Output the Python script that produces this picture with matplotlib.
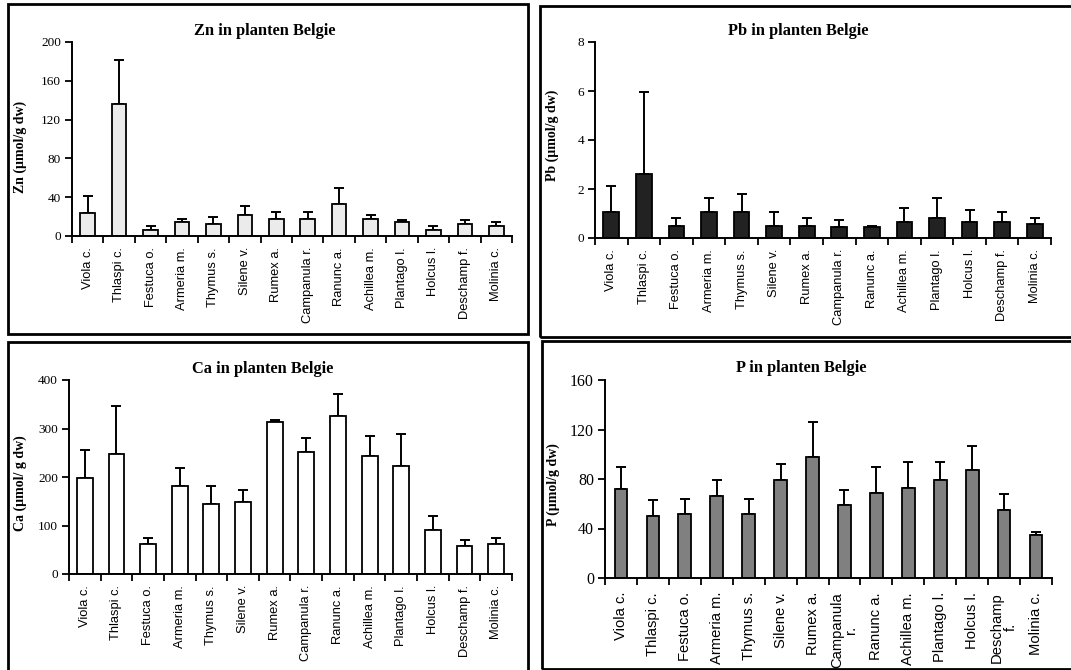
import matplotlib
matplotlib.use("Agg")
import matplotlib.pyplot as plt
from matplotlib.patches import Rectangle

# soorten (x-as)
species = ["Viola c.", "Thlaspi c.", "Festuca o.", "Armeria m.", "Thymus s.", "Silene v.",
           "Rumex a.", "Campanula r.", "Ranunc a.", "Achillea m.", "Plantago l.", "Holcus l.",
           "Deschamp f.", "Molinia c."]
species_p = ["Viola c.", "Thlaspi c.", "Festuca o.", "Armeria m.", "Thymus s.", "Silene v.",
             "Rumex a.", "Campanula\nr.", "Ranunc a.", "Achillea m.", "Plantago l.", "Holcus l.",
             "Deschamp\nf.", "Molinia c."]

# gemiddelden en bovenkant foutbalk
zn = [24, 136, 6, 14, 12, 22, 18, 18, 33, 18, 14, 6, 12, 10]
zn_top = [41, 181, 10, 18, 20, 31, 25, 25, 49, 22, 16, 10, 16, 14]

pb = [1.06, 2.63, 0.49, 1.06, 1.06, 0.49, 0.49, 0.46, 0.46, 0.65, 0.80, 0.65, 0.65, 0.56]
pb_top = [2.13, 5.97, 0.80, 1.62, 1.80, 1.06, 0.80, 0.72, 0.49, 1.23, 1.62, 1.13, 1.06, 0.80]

ca = [198, 247, 62, 181, 144, 148, 313, 252, 325, 243, 223, 91, 58, 62]
ca_top = [256, 346, 74, 219, 182, 173, 318, 280, 372, 285, 289, 119, 70, 74]

p = [72, 50, 52, 66, 52, 79, 98, 59, 69, 73, 79, 87, 55, 35]
p_top = [90, 63, 64, 79, 64, 92, 126, 71, 90, 94, 94, 107, 68, 37]

W, H = 1071, 670
fig = plt.figure(figsize=(W / 100, H / 100), dpi=100)

serif = "Liberation Serif"
sans = "Liberation Sans"

# kaders rond de grafieken
for (x0, y0, x1, y1) in [(8, 4, 528, 334), (540, 6, 1076, 337), (8, 342, 528, 675), (542, 341, 1076, 669)]:
    fig.patches.append(Rectangle((x0 / W, 1 - y1 / H), (x1 - x0) / W, (y1 - y0) / H,
                                 transform=fig.transFigure, fill=False, lw=2, ec="black"))


def panel(left, right, y0, ytop, labels, vals, tops, color, ymax, step, title, ylabel,
          title_x, title_y, lab_x, lab_y, width, tfs=9.5, xfs=9.3, xpad=8):
    ax = fig.add_axes([left / W, 1 - y0 / H, (right - left) / W, (y0 - ytop) / H])
    x = list(range(len(vals)))
    err = [[0] * len(vals), [t - v for t, v in zip(tops, vals)]]
    ax.bar(x, vals, width=width, color=color, edgecolor="black", linewidth=1.3, zorder=2)
    ax.errorbar(x, vals, yerr=err, fmt="none", ecolor="black", elinewidth=1.4,
                capsize=3.5, capthick=1.4, zorder=1)
    ax.set_xlim(-0.5, len(vals) - 0.5)
    ax.set_ylim(0, ymax)
    ax.set_yticks(range(0, ymax + 1, step))
    ax.set_xticks([i - 0.5 for i in range(len(vals) + 1)])
    ax.set_xticklabels([])
    ax.set_xticks(x, minor=True)
    ax.set_xticklabels(labels, minor=True, rotation=90, fontsize=xfs, family=sans,
                       va="top", ha="center", linespacing=1.0)
    ax.tick_params(axis="x", which="minor", length=0, pad=xpad)
    ax.tick_params(axis="x", which="major", direction="out", length=5, width=1.3)
    ax.tick_params(axis="y", direction="out", length=5, width=1.3, labelsize=tfs, pad=3)
    for lab in ax.get_yticklabels():
        lab.set_family(serif)
    for s in ["top", "right"]:
        ax.spines[s].set_visible(False)
    for s in ["left", "bottom"]:
        ax.spines[s].set_linewidth(1.4)
    fig.text(title_x / W, 1 - title_y / H, title, family=serif, weight="bold", fontsize=11.8,
             ha="center", va="center")
    fig.text(lab_x / W, 1 - lab_y / H, ylabel, family=serif, weight="bold", fontsize=10,
             rotation=90, ha="center", va="center")
    return ax


panel(72, 512, 236, 42, species, zn, zn_top, "#ebebeb", 200, 40, "Zn in planten Belgie",
      "Zn (µmol/g dw)", 265, 31, 20, 147, 0.46)
panel(595, 1051, 238, 42, species, pb, pb_top, "#222222", 8, 2, "Pb in planten Belgie",
      "Pb (µmol/g dw)", 798, 31, 552, 135, 0.48)
panel(69, 512, 574, 380, species, ca, ca_top, "white", 400, 100, "Ca in planten Belgie",
      "Ca (µmol/ g dw)", 263, 369, 20, 483, 0.5)
panel(605, 1052, 578, 380, species_p, p, p_top, "#808080", 160, 40, "P in planten Belgie",
      "P (µmol/g dw)", 801, 368, 553, 485, 0.4, tfs=11.5, xfs=10.6, xpad=10)

fig.savefig("out.png", dpi=100)
